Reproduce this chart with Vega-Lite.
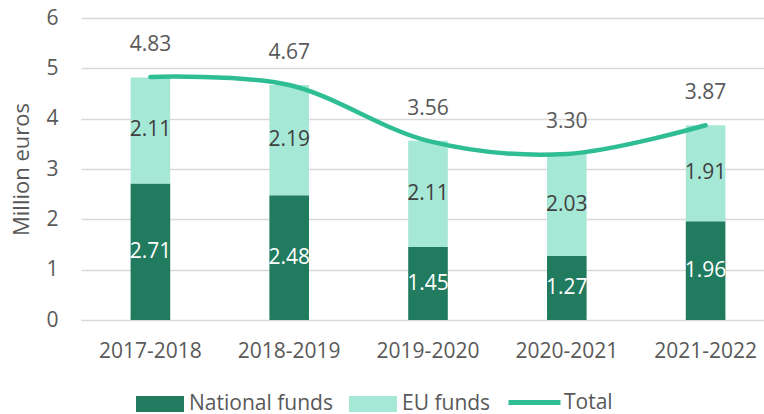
{
  "$schema": "https://vega.github.io/schema/vega-lite/v6.json",
  "width": 683,
  "height": 302,
  "autosize": {"type": "none"},
  "padding": {"left": 81, "top": 18, "right": 0, "bottom": 94},
  "datasets": {
    "bars": [
      {"year": "2017-2018", "series": "National funds", "value": 2.71},
      {"year": "2017-2018", "series": "EU funds", "value": 2.11},
      {"year": "2018-2019", "series": "National funds", "value": 2.48},
      {"year": "2018-2019", "series": "EU funds", "value": 2.19},
      {"year": "2019-2020", "series": "National funds", "value": 1.45},
      {"year": "2019-2020", "series": "EU funds", "value": 2.11},
      {"year": "2020-2021", "series": "National funds", "value": 1.27},
      {"year": "2020-2021", "series": "EU funds", "value": 2.03},
      {"year": "2021-2022", "series": "National funds", "value": 1.96},
      {"year": "2021-2022", "series": "EU funds", "value": 1.91}
    ],
    "totals": [
      {"year": "2017-2018", "total": 4.83},
      {"year": "2018-2019", "total": 4.67},
      {"year": "2019-2020", "total": 3.56},
      {"year": "2020-2021", "total": 3.30},
      {"year": "2021-2022", "total": 3.87}
    ]
  },
  "config": {
    "view": {"stroke": null},
    "font": "Open Sans",
    "axis": {
      "labelFont": "Open Sans",
      "labelFontSize": 21,
      "labelColor": "#595959",
      "titleFont": "Open Sans",
      "titleFontSize": 22,
      "titleColor": "#595959",
      "titleFontWeight": "normal"
    },
    "legend": {
      "labelFont": "Open Sans",
      "labelFontSize": 21,
      "labelColor": "#595959",
      "labelBaseline": "middle"
    }
  },
  "layer": [
    {
      "data": {"name": "bars"},
      "mark": {"type": "bar", "width": {"band": 0.317}},
      "encoding": {
        "x": {
          "field": "year",
          "type": "nominal",
          "scale": {"domain": ["2017-2018", "2018-2019", "2019-2020", "2020-2021", "2021-2022"], "range": [0, 694]},
          "axis": {"title": null, "labelAngle": 0, "ticks": false, "domain": false, "labelPadding": 31, "labelBaseline": "middle"}
        },
        "y": {
          "field": "value",
          "type": "quantitative",
          "stack": "zero",
          "scale": {"domain": [0, 6], "nice": false},
          "axis": {
            "title": "Million euros",
            "values": [0, 1, 2, 3, 4, 5, 6],
            "grid": true,
            "gridColor": "#d9d9d9",
            "gridWidth": 1.5,
            "domain": false,
            "ticks": false,
            "labelPadding": 23,
            "titlePadding": 12
          }
        },
        "order": {"field": "series", "sort": "descending"},
        "fill": {
          "field": "series",
          "type": "nominal",
          "scale": {"domain": ["National funds", "EU funds"], "range": ["#217b5f", "#a6e8d6"]},
          "legend": {
            "title": null,
            "orient": "none",
            "direction": "horizontal",
            "legendX": 55,
            "legendY": 362,
            "symbolType": "M-1,-0.333H1V0.333H-1Z",
            "symbolSize": 2304,
            "symbolStrokeWidth": 0,
            "symbolOpacity": 1,
            "labelOffset": 5,
            "columnPadding": 16
          }
        }
      }
    },
    {
      "data": {"name": "bars"},
      "transform": [
        {"stack": "value", "groupby": ["year"], "sort": [{"field": "series", "order": "descending"}], "as": ["v0", "v1"]},
        {"fold": ["v0", "v1"], "as": ["k", "pos"]}
      ],
      "mark": {"type": "text", "fontSize": 21, "font": "Open Sans", "baseline": "middle", "align": "center"},
      "encoding": {
        "x": {"field": "year", "type": "nominal"},
        "y": {"field": "pos", "type": "quantitative", "aggregate": "mean"},
        "text": {"field": "value", "type": "quantitative", "format": ".2f"},
        "detail": {"field": "series"},
        "color": {
          "field": "series",
          "type": "nominal",
          "scale": {"domain": ["National funds", "EU funds"], "range": ["#ffffff", "#404040"]},
          "legend": null
        }
      }
    },
    {
      "data": {"name": "totals"},
      "mark": {"type": "line", "interpolate": "cardinal", "strokeWidth": 4.5, "strokeCap": "round"},
      "encoding": {
        "x": {"field": "year", "type": "nominal"},
        "y": {"field": "total", "type": "quantitative"},
        "stroke": {
          "datum": "Total",
          "scale": {"domain": ["Total"], "range": ["#2fbd94"]},
          "legend": {
            "title": null,
            "orient": "none",
            "legendX": 425,
            "legendY": 356,
            "symbolType": "stroke",
            "symbolSize": 2704,
            "symbolStrokeWidth": 5,
            "labelOffset": 1
          }
        }
      }
    },
    {
      "data": {"name": "totals"},
      "mark": {"type": "text", "fontSize": 21, "font": "Open Sans", "baseline": "middle", "align": "center", "dy": -32, "color": "#595959"},
      "encoding": {
        "x": {"field": "year", "type": "nominal"},
        "y": {"field": "total", "type": "quantitative"},
        "text": {"field": "total", "type": "quantitative", "format": ".2f"}
      }
    }
  ]
}
